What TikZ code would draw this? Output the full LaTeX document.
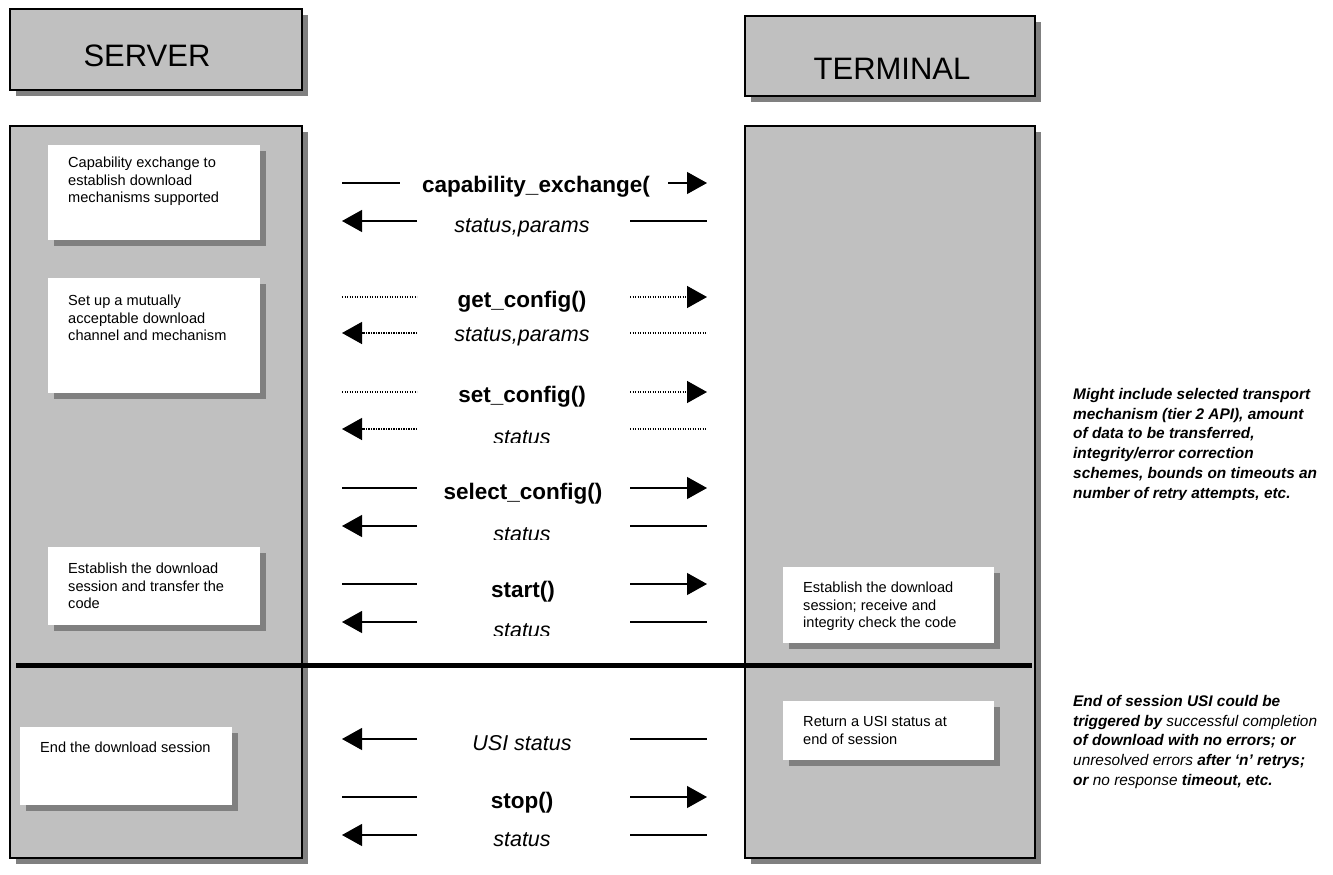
\documentclass[tikz,border=0pt]{standalone}
\usepackage{fontspec}
\setmainfont{Liberation Sans}
\usetikzlibrary{arrows.meta,shadows}

\definecolor{boxgray}{RGB}{192,192,192}
\definecolor{shadowgray}{RGB}{128,128,128}

\tikzset{
	boxshadow/.style={drop shadow={shadow xshift=6pt,shadow yshift=-6pt,opacity=1,fill=shadowgray}},
	lanebox/.style={draw,line width=2pt,fill=boxgray,boxshadow,anchor=north west,inner sep=0pt},
	notebox/.style={fill=white,boxshadow,anchor=north west,inner sep=0pt},
	headtext/.style={inner sep=0pt,font=\fontsize{31}{36}\selectfont},
	notetext/.style={anchor=north west,inner sep=0pt,align=left,font=\fontsize{14.6}{17.6}\selectfont},
	sidetext/.style={anchor=north west,inner sep=0pt,align=left,font=\bfseries\itshape\fontsize{15.4}{19.8}\selectfont},
	call/.style={inner sep=0pt,font=\bfseries\fontsize{22.5}{27}\selectfont},
	reply/.style={inner sep=0pt,font=\itshape\fontsize{21.5}{26}\selectfont},
	msg/.style={line width=1.2pt},
	dotmsg/.style={line width=1.4pt,dash pattern=on 1.2pt off 1.3pt},
	tip/.style={-{Triangle[length=20pt,width=22pt]}}
}

\begin{document}
\begin{tikzpicture}[x=1pt,y=-1pt]
	\useasboundingbox (0,0) rectangle (1333,875);

	% headers and lanes
	\node[lanebox,minimum width=292pt,minimum height=81pt] (srvhead) at (9,8) {};
	\node[headtext] (srvname) at (147,56) {SERVER};
	\node[lanebox,minimum width=290pt,minimum height=80pt] (termhead) at (744,15) {};
	\node[headtext] (termname) at (892,69) {TERMINAL};

	\node[lanebox,minimum width=292pt,minimum height=732pt] (srvlane) at (9,125) {};
	\node[lanebox,minimum width=290pt,minimum height=732pt] (termlane) at (744,125) {};

	% end of transfer
	\coordinate (sepw) at (16,665);
	\coordinate (sepe) at (1032,665);
	\draw[line width=5pt] (sepw) -- (sepe);

	% server notes
	\node[notebox,minimum width=212pt,minimum height=95pt] (capnote) at (48,145) {};
	\node[notetext] (captext) at (68,157) {Capability exchange to\\establish download\\mechanisms supported};
	\node[notebox,minimum width=212pt,minimum height=115pt] (setnote) at (48,278) {};
	\node[notetext] (settext) at (68,295) {Set up a mutually\\acceptable download\\channel and mechanism};
	\node[notebox,minimum width=212pt,minimum height=78pt] (xfernote) at (48,547) {};
	\node[notetext] (xfertext) at (68,563) {Establish the download\\session and transfer the\\code};
	\node[notebox,minimum width=212pt,minimum height=78pt] (endnote) at (20,727) {};
	\node[notetext] (endtext) at (40,742) {End the download session};

	% terminal notes
	\node[notebox,minimum width=211pt,minimum height=76pt] (rcvnote) at (783,567) {};
	\node[notetext] (rcvtext) at (803,582) {Establish the download\\session; receive and\\integrity check the code};
	\node[notebox,minimum width=211pt,minimum height=59pt] (usinote) at (783,701) {};
	\node[notetext] (usitext) at (803,716) {Return a USI status at\\end of session};

	% message rows: arrow tip, gap, gap, arrow tip
	\foreach \r/\y in {capf/183,capr/221,getf/297,getr/333,setf/392,setr/429,self/488,selr/526,stf/584,str/622,usir/739,stpf/797,stpr/835}{
		\coordinate (\r1) at (342,\y);
		\coordinate (\r2) at (417,\y);
		\coordinate (\r3) at (630,\y);
		\coordinate (\r4) at (707,\y);
	}

	\draw[msg] (capf1) -- ([xshift=-17pt]capf2);
	\draw[msg,tip] ([xshift=38pt]capf3) -- (capf4);
	\node[call,anchor=west] (capcall) at (422,187) {capability\_exchange(};
	\draw[msg,tip] (capr2) -- (capr1);
	\draw[msg] (capr3) -- (capr4);
	\node[reply] (capret) at (522,228) {status,params};

	\draw[dotmsg] (getf1) -- (getf2);
	\draw[dotmsg,tip] (getf3) -- (getf4);
	\node[call] (getcall) at (522,302) {get\_config()};
	\draw[dotmsg,tip] (getr2) -- (getr1);
	\draw[dotmsg] (getr3) -- (getr4);
	\node[reply] (getret) at (522,337) {status,params};

	\draw[dotmsg] (setf1) -- (setf2);
	\draw[dotmsg,tip] (setf3) -- (setf4);
	\node[call] (setcall) at (522,397) {set\_config()};
	\draw[dotmsg,tip] (setr2) -- (setr1);
	\draw[dotmsg] (setr3) -- (setr4);
	\begin{scope}
		\clip (420,420) rectangle (630,442);
		\node[reply] (setret) at (522,438) {status};
	\end{scope}

	\draw[msg] (self1) -- (self2);
	\draw[msg,tip] (self3) -- (self4);
	\node[call] (selcall) at (523,494) {select\_config()};
	\draw[msg,tip] (selr2) -- (selr1);
	\draw[msg] (selr3) -- (selr4);
	\begin{scope}
		\clip (420,515) rectangle (630,539);
		\node[reply] (selret) at (522,535) {status};
	\end{scope}

	\draw[msg] (stf1) -- (stf2);
	\draw[msg,tip] (stf3) -- (stf4);
	\node[call] (stcall) at (523,592) {start()};
	\draw[msg,tip] (str2) -- (str1);
	\draw[msg] (str3) -- (str4);
	\begin{scope}
		\clip (420,612) rectangle (630,635);
		\node[reply] (stret) at (522,631) {status};
	\end{scope}

	\draw[msg,tip] (usir2) -- (usir1);
	\draw[msg] (usir3) -- (usir4);
	\node[reply] (usiret) at (522,743) {USI status};

	\draw[msg] (stpf1) -- (stpf2);
	\draw[msg,tip] (stpf3) -- (stpf4);
	\node[call] (stpcall) at (522,803) {stop()};
	\draw[msg,tip] (stpr2) -- (stpr1);
	\draw[msg] (stpr3) -- (stpr4);
	\node[reply] (stpret) at (522,840) {status};

	% side remarks
	\begin{scope}
		\clip (1060,370) rectangle (1333,499);
		\node[sidetext] (cfgremark) at (1073,388) {Might include selected transport\\mechanism (tier 2 API), amount\\of data to be transferred,\\integrity/error correction\\schemes, bounds on timeouts an\\number of retry attempts, etc.};
	\end{scope}
	\node[sidetext] (usiremark) at (1073,695) {End of session USI could be\\triggered by {\mdseries successful completion}\\of download with no errors; or\\{\mdseries unresolved errors} after ‘n’ retrys;\\or {\mdseries no response} timeout, etc.};
\end{tikzpicture}
\end{document}
